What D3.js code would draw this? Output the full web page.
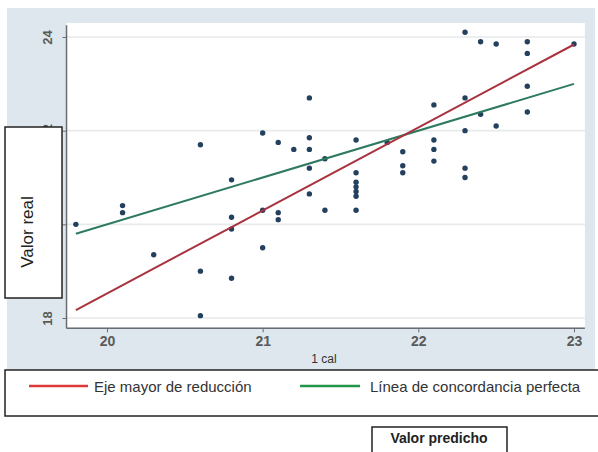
<!DOCTYPE html>
<html>
<head>
<meta charset="utf-8">
<script src="https://cdn.jsdelivr.net/npm/d3@7"></script>
<style>
  body { margin: 0; background: #fff; }
  svg { display: block; font-family: Arial, "Liberation Sans", sans-serif; }
</style>
</head>
<body>
<div id="chart"></div>
<script>
/* ===== DATA ===== */
const predicted = [19.8, 20.1, 20.1, 20.3, 20.6, 20.6, 20.6, 20.8, 20.8, 20.8, 20.8,
  21.0, 21.0, 21.0, 21.1, 21.1, 21.1, 21.2, 21.3, 21.3, 21.3, 21.3, 21.3, 21.4, 21.4,
  21.6, 21.6, 21.6, 21.6, 21.6, 21.6, 21.6, 21.8, 21.9, 21.9, 21.9,
  22.1, 22.1, 22.1, 22.1, 22.3, 22.3, 22.3, 22.3, 22.3, 22.4, 22.4, 22.5, 22.5,
  22.7, 22.7, 22.7, 22.7, 23.0];
const actual = [20.0, 20.4, 20.25, 19.35, 21.7, 19.0, 18.05, 20.95, 20.15, 19.9, 18.85,
  21.95, 20.3, 19.5, 21.75, 20.25, 20.1, 21.6, 22.7, 21.85, 21.6, 21.2, 20.65, 21.4, 20.3,
  21.8, 21.1, 20.9, 20.8, 20.7, 20.6, 20.3, 21.75, 21.55, 21.25, 21.1,
  22.55, 21.8, 21.6, 21.35, 24.1, 22.7, 22.0, 21.2, 21.0, 23.9, 22.35, 23.85, 22.1,
  23.9, 23.65, 22.95, 22.4, 23.85];

const xTicks = [20, 21, 22, 23];
const yTicks = [18, 20, 22, 24];

// line endpoints: [x0, x1] and [y0, y1]
const rmaX = [19.8, 23.0];
const rmaY = [18.17, 23.84];
const perfectX = [19.8, 23.0];
const perfectY = [19.8, 23.0];

const legendLabels = ["Eje mayor de reducción", "Línea de concordancia perfecta"];
const legendColors = ["#dd3838", "#24964a"];

/* ===== SVG ===== */
const width = 598, height = 452;
const svg = d3.select("#chart").append("svg")
    .attr("width", width)
    .attr("height", height);

const x = d3.scaleLinear().domain([20, 23]).range([107, 574]);
const y = d3.scaleLinear().domain([18, 24]).range([318, 37]);

// outer graph region
svg.append("rect")
    .attr("x", 7).attr("y", 8)
    .attr("width", 588).attr("height", 362)
    .attr("fill", "#dde7ed");

// plot region
svg.append("rect")
    .attr("x", x(19.74)).attr("y", y(24.3))
    .attr("width", x(23.07) - x(19.74))
    .attr("height", y(17.8) - y(24.3))
    .attr("fill", "#ffffff");

/* ===== GRID ===== */
svg.append("g")
    .selectAll("line")
    .data(yTicks)
    .enter()
    .append("line")
    .attr("x1", x(19.74)).attr("x2", x(23.07))
    .attr("y1", d => y(d)).attr("y2", d => y(d))
    .attr("stroke", "#e7e9ea")
    .attr("stroke-width", 1.6);

/* ===== AXES ===== */
const fmt = d3.format("d");

const yAxis = svg.append("g")
    .attr("transform", `translate(${x(19.74)},0)`)
    .call(d3.axisLeft(y).tickValues(yTicks).tickFormat(fmt).tickSize(4).tickSizeOuter(0));
yAxis.select(".domain").attr("stroke", "#6a6e72").attr("stroke-width", 1.5)
    .attr("d", `M0,${y(24.25)}V${y(17.78)}`);
yAxis.selectAll(".tick line").attr("stroke", "#6a6e72");
yAxis.selectAll(".tick text")
    .attr("x", 0).attr("dy", 0)
    .attr("transform", "translate(-15,0) rotate(-90)")
    .attr("text-anchor", "middle")
    .attr("font-size", 13)
    .attr("font-weight", "bold")
    .attr("fill", "#5a5a5a");

const xAxis = svg.append("g")
    .attr("transform", `translate(0,${y(17.78)})`)
    .call(d3.axisBottom(x).tickValues(xTicks).tickFormat(fmt).tickSize(4).tickSizeOuter(0));
xAxis.select(".domain").attr("stroke", "#6a6e72").attr("stroke-width", 1.5)
    .attr("d", `M${x(19.74)},0H${x(23.07)}`);
xAxis.selectAll(".tick line").attr("stroke", "#6a6e72");
xAxis.selectAll(".tick text")
    .attr("y", 8)
    .attr("font-size", 14)
    .attr("font-weight", "bold")
    .attr("fill", "#5a5a5a");

svg.append("text")
    .attr("x", 324).attr("y", 363)
    .attr("text-anchor", "middle")
    .attr("font-size", 12)
    .attr("fill", "#333")
    .text("1 cal");

/* ===== POINTS ===== */
const points = predicted.map((p, i) => ({ p: p, a: actual[i] }));
svg.append("g")
    .selectAll("circle")
    .data(points)
    .enter()
    .append("circle")
    .attr("cx", d => x(d.p))
    .attr("cy", d => y(d.a))
    .attr("r", 2.7)
    .attr("fill", "#24405f");

/* ===== LINES ===== */
const line = d3.line().x(d => x(d[0])).y(d => y(d[1]));
svg.append("path")
    .datum(d3.zip(perfectX, perfectY))
    .attr("d", line)
    .attr("fill", "none")
    .attr("stroke", "#2e7a60")
    .attr("stroke-width", 2);
svg.append("path")
    .datum(d3.zip(rmaX, rmaY))
    .attr("d", line)
    .attr("fill", "none")
    .attr("stroke", "#a8333f")
    .attr("stroke-width", 2);

/* ===== Y TITLE BOX ===== */
svg.append("rect")
    .attr("x", 5).attr("y", 127)
    .attr("width", 57).attr("height", 171)
    .attr("fill", "#fff")
    .attr("stroke", "#222")
    .attr("stroke-width", 1.5);
svg.append("text")
    .attr("transform", "translate(33,232) rotate(-90)")
    .attr("text-anchor", "middle")
    .attr("font-size", 17)
    .attr("fill", "#222")
    .text("Valor real");

/* ===== LEGEND ===== */
svg.append("rect")
    .attr("x", 5).attr("y", 370)
    .attr("width", 600).attr("height", 46)
    .attr("fill", "#fff")
    .attr("stroke", "#222")
    .attr("stroke-width", 1.5);

const legendX = [29, 300];
const legend = svg.append("g")
    .selectAll("g")
    .data(legendLabels)
    .enter()
    .append("g")
    .attr("transform", (d, i) => `translate(${legendX[i]},386)`);
legend.append("line")
    .attr("x1", 0).attr("x2", (d, i) => i === 0 ? 59 : 60)
    .attr("stroke", (d, i) => legendColors[i])
    .attr("stroke-width", 2.5);
legend.append("text")
    .attr("x", (d, i) => i === 0 ? 65 : 70)
    .attr("y", 6)
    .attr("font-size", 15)
    .attr("fill", "#333")
    .text(d => d);

/* ===== X TITLE BOX ===== */
svg.append("rect")
    .attr("x", 372).attr("y", 427)
    .attr("width", 135).attr("height", 32)
    .attr("fill", "#fff")
    .attr("stroke", "#222")
    .attr("stroke-width", 1.5);
svg.append("text")
    .attr("x", 439).attr("y", 443)
    .attr("text-anchor", "middle")
    .attr("font-size", 14)
    .attr("font-weight", "bold")
    .attr("fill", "#222")
    .text("Valor predicho");
</script>
</body>
</html>
